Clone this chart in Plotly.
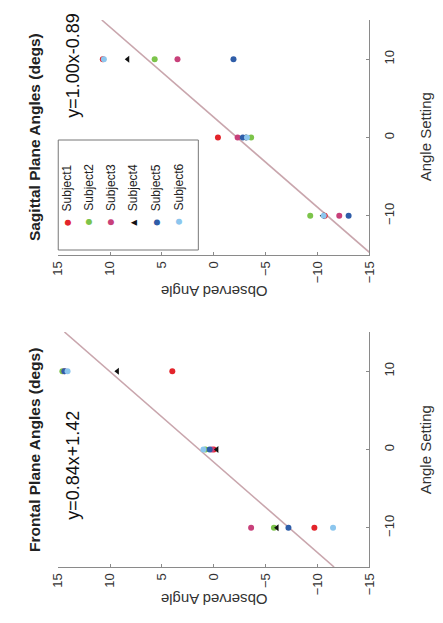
import plotly.graph_objects as go

W, H = 443, 623

subjects = ["Subject1", "Subject2", "Subject3", "Subject4", "Subject5", "Subject6"]
colors = ["#e3242b", "#7cc44a", "#c8407a", "#111111", "#2f5da8", "#8cc6ee"]
symbols = ["circle", "circle", "circle", "triangle-left", "circle", "circle"]

angle_settings = [-10, 0, 10]

# Observed angles per subject at settings -10, 0, 10
frontal_obs = {
    "Subject1": [-9.7, 0.0, 4.0],
    "Subject2": [-5.8, 0.8, 14.6],
    "Subject3": [-3.6, 0.2, 14.4],
    "Subject4": [-6.1, -0.3, 9.3],
    "Subject5": [-7.2, 0.4, 14.4],
    "Subject6": [-11.5, 1.0, 14.1],
}
sagittal_obs = {
    "Subject1": [-10.7, -0.4, 10.7],
    "Subject2": [-9.3, -3.6, 5.7],
    "Subject3": [-12.1, -2.3, 3.5],
    "Subject4": [-10.5, -3.0, 8.3],
    "Subject5": [-13.0, -2.8, -1.9],
    "Subject6": [-10.6, -3.2, 10.6],
}

# Fit lines as drawn in the chart: observed angle at settings -15 and 15
fit_settings = [-15, 15]
frontal_fit_obs = [-11.6, 14.4]
sagittal_fit_obs = [-15.3, 10.8]
frontal_eq = "y=0.84x+1.42"
sagittal_eq = "y=1.00x-0.89"

obs_ticks = [-15, -10, -5, 0, 5, 10, 15]
set_ticks = [-10, 0, 10]


def px(x):
    return x / W


def py(y):
    return 1 - y / H


fig = go.Figure()

panels = [
    ("x", "y", sagittal_obs, sagittal_fit_obs),
    ("x2", "y2", frontal_obs, frontal_fit_obs),
]
for xa, ya, data, fit in panels:
    fig.add_trace(go.Scatter(
        x=fit, y=fit_settings, mode="lines",
        line=dict(color="#c9a6ad", width=1.6), xaxis=xa, yaxis=ya,
        showlegend=False, hoverinfo="skip"))
    for s, c, sym in zip(subjects, colors, symbols):
        fig.add_trace(go.Scatter(
            x=data[s], y=angle_settings, mode="markers",
            marker=dict(color=c, size=6, symbol=sym),
            xaxis=xa, yaxis=ya, showlegend=False, name=s))

axis_common = dict(showgrid=False, zeroline=False, showline=True,
                   linecolor="#8a8a8a", linewidth=1.2, ticks="inside",
                   ticklen=3, tickcolor="#8a8a8a",
                   tickfont=dict(family="Liberation Sans", size=13, color="#333333"),
                   tickangle=-90)

domains = [(20, 255), (332, 567)]
layout_axes = {}
for i, (top, bot) in enumerate(domains):
    sx = "" if i == 0 else str(i + 1)
    layout_axes["xaxis" + sx] = dict(axis_common, domain=[px(52), px(374)],
                                     range=[15, -15], tickvals=obs_ticks,
                                     anchor="y" + sx)
    layout_axes["yaxis" + sx] = dict(axis_common, domain=[py(bot), py(top)],
                                     range=[-15, 15], tickvals=set_ticks,
                                     side="right", anchor="x" + sx,
                                     ticklabelstandoff=8)

fig.update_layout(width=W, height=H, margin=dict(l=0, r=0, t=0, b=0),
                  paper_bgcolor="white", plot_bgcolor="white",
                  showlegend=False, **layout_axes)

ann = []
titles = [("Sagittal Plane Angles (degs)", 137, sagittal_eq, 65, 292),
          ("Frontal Plane Angles (degs)", 450, frontal_eq, 465, 600)]
for title, ty, eq, ey, oy in titles:
    ann.append(dict(text=f"<b>{title}</b>", x=px(27), y=py(ty), xref="paper", yref="paper",
                    textangle=-90, showarrow=False, xanchor="center", yanchor="middle",
                    font=dict(family="Liberation Sans", size=15.5, color="#222222")))
    ann.append(dict(text=eq, x=px(67), y=py(ey), xref="paper", yref="paper",
                    textangle=-90, showarrow=False, xanchor="center", yanchor="middle",
                    font=dict(family="Liberation Sans", size=18, color="#111111")))
    ann.append(dict(text="Observed Angle", x=px(213), y=py(oy), xref="paper", yref="paper",
                    textangle=180, showarrow=False, xanchor="center", yanchor="middle",
                    font=dict(family="Liberation Sans", size=15, color="#333333")))
    ann.append(dict(text="Angle Setting", x=px(432), y=py(ty), xref="paper", yref="paper",
                    textangle=-90, showarrow=False, xanchor="center", yanchor="middle",
                    font=dict(family="Liberation Sans", size=15, color="#333333")))

# Legend (rotated) inside the Sagittal panel
legend_x = [61, 83, 106, 129, 153, 176]
for s, c, sym, lx in zip(subjects, colors, symbols, legend_x):
    glyph = "▲" if sym.startswith("triangle") else "●"
    ann.append(dict(text=glyph, x=px(lx), y=py(222), xref="paper", yref="paper",
                    textangle=-90, showarrow=False, xanchor="center", yanchor="middle",
                    font=dict(family="DejaVu Sans", size=8, color=c)))
    ann.append(dict(text=s, x=px(lx), y=py(213), xref="paper", yref="paper",
                    textangle=-90, showarrow=False, xanchor="center", yanchor="bottom",
                    font=dict(family="Liberation Sans", size=12, color="#222222")))

fig.update_layout(annotations=ann)
fig.add_shape(type="rect", xref="paper", yref="paper",
              x0=px(52), x1=px(197), y0=py(250), y1=py(140),
              line=dict(color="#777777", width=1), fillcolor="rgba(0,0,0,0)")

fig.write_html("out.html", config={"displayModeBar": False},
               post_script="document.body.style.margin='0';document.body.style.overflow='hidden';")
